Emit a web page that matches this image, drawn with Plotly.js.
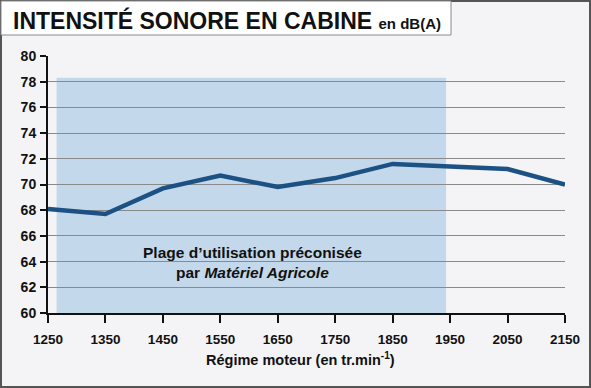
<!DOCTYPE html>
<html><head><meta charset="utf-8">
<script src="https://cdn.plot.ly/plotly-3.0.1.min.js"></script>
<style>html,body{margin:0;padding:0;background:#f4f3f6;}#chart{width:591px;height:388px;}</style>
</head><body><div id="chart"></div>
<script>
const rpm = [1250, 1350, 1450, 1550, 1650, 1750, 1850, 1950, 2050, 2150];
const dbA = [68.1, 67.7, 69.7, 70.7, 69.8, 70.5, 71.6, 71.4, 71.2, 70.0];
const yTicks = [60, 62, 64, 66, 68, 70, 72, 74, 76, 78, 80];
const xTicks = [1250, 1350, 1450, 1550, 1650, 1750, 1850, 1950, 2050, 2150];
const rangeStart = 1265, rangeEnd = 1943, rangeTop = 78.3;

const W = 591, H = 388, L = 48, R = 26, T = 56, B = 75;
const pw = W - L - R, ph = H - T - B;
const px = v => (v - L) / pw;
const py = v => (H - B - v) / ph;
const FONT = 'Liberation Sans, Arial, sans-serif';

const trace = {
  x: rpm, y: dbA, type: 'scatter', mode: 'lines',
  line: {color: '#1c5184', width: 4.5}, cliponaxis: false, hoverinfo: 'skip'
};

const layout = {
  width: W, height: H,
  margin: {l: L, r: R, t: T, b: B},
  paper_bgcolor: '#f4f3f6', plot_bgcolor: 'rgba(0,0,0,0)',
  showlegend: false,
  font: {family: FONT, color: '#111'},
  title: {
    text: 'INTENSITÉ SONORE EN CABINE <span style="font-size:15px">en dB(A)</span>',
    font: {family: FONT, size: 23, weight: 'bold', color: '#111'},
    xref: 'container', yref: 'container', x: 13 / W, xanchor: 'left', y: 1 - 21 / H, yanchor: 'middle'
  },
  xaxis: {
    range: [1250, 2150], tickvals: xTicks, ticktext: xTicks.map(String),
    showgrid: false, zeroline: false, showline: true, linecolor: '#111', linewidth: 2,
    ticks: 'outside', ticklen: 8, tickwidth: 2, tickcolor: '#111',
    ticklabelstandoff: 5,
    tickfont: {family: FONT, size: 13.5, weight: 'bold', color: '#111'}
  },
  yaxis: {
    range: [60, 80], tickvals: yTicks, ticktext: yTicks.map(String),
    showgrid: true, gridcolor: '#8a8a8a', gridwidth: 1,
    zeroline: false, showline: true, linecolor: '#111', linewidth: 2,
    ticks: 'outside', ticklen: 6, tickwidth: 2, tickcolor: '#111',
    ticklabelstandoff: 1,
    tickfont: {family: FONT, size: 14, weight: 'bold', color: '#111'}
  },
  shapes: [
    {type: 'rect', xref: 'paper', yref: 'paper', x0: px(1), x1: px(W - 1), y0: py(H - 1), y1: py(1),
     line: {color: '#555', width: 2}, fillcolor: 'rgba(0,0,0,0)', layer: 'below'},
    {type: 'rect', xref: 'paper', yref: 'paper', x0: px(1), x1: px(451), y0: py(35), y1: py(1),
     line: {color: '#888', width: 1}, fillcolor: '#ffffff', layer: 'below'},
    {type: 'rect', xref: 'x', yref: 'y', x0: rangeStart, x1: rangeEnd, y0: 60, y1: rangeTop,
     line: {width: 0}, fillcolor: '#c4d8eb', layer: 'below'}
  ],
  annotations: [
    {xref: 'paper', yref: 'paper', x: px(252), y: py(262), xanchor: 'center', yanchor: 'middle',
     text: 'Plage d’utilisation préconisée<br>par <i>Matériel Agricole</i>', showarrow: false,
     font: {family: FONT, size: 15.5, weight: 'bold', color: '#111'}, align: 'center'},
    {xref: 'paper', yref: 'paper', x: px(300), y: py(359), xanchor: 'center', yanchor: 'middle',
     text: 'Régime moteur (en tr.min<sup>-1</sup>)', showarrow: false,
     font: {family: FONT, size: 14.5, weight: 'bold', color: '#111'}}
  ]
};

Plotly.newPlot('chart', [trace], layout, {staticPlot: true, displayModeBar: false});
</script></body></html>
